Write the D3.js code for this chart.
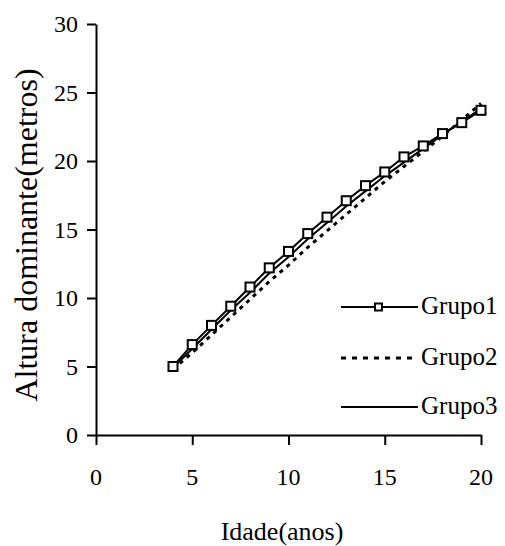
<!DOCTYPE html>
<html>
<head>
<meta charset="utf-8">
<script src="https://cdn.jsdelivr.net/npm/d3@7"></script>
<style>
html,body{margin:0;padding:0;background:#fff;}
svg{display:block;}
</style>
</head>
<body>
<svg id="chart" width="505" height="546"></svg>
<script>
const ages = [4,5,6,7,8,9,10,11,12,13,14,15,16,17,18,19,20];
const grupo1 = [5.0,6.6,8.0,9.4,10.8,12.2,13.4,14.7,15.9,17.1,18.2,19.2,20.3,21.1,22.0,22.8,23.7];
const grupo2 = [4.8,6.0,7.3,8.6,9.9,11.2,12.4,13.7,14.9,16.1,17.3,18.5,19.6,20.7,21.8,23.0,24.2];
const grupo3 = [4.9,6.3,7.7,9.1,10.4,11.8,13.0,14.3,15.5,16.7,17.8,18.9,19.9,20.9,21.9,22.9,23.8];
const seriesNames = ["Grupo1","Grupo2","Grupo3"];
const xTicks = [0,5,10,15,20];
const yTicks = [0,5,10,15,20,25,30];

const FONT = "'Liberation Serif'";
const svg = d3.select("#chart");
const x = d3.scaleLinear().domain([0,20]).range([96,481]);
const y = d3.scaleLinear().domain([0,30]).range([435,24]);

// axes (lines from d3 axes, labels drawn as text from tick arrays)
const yAxis = svg.append("g").attr("transform","translate(96,0)")
  .call(d3.axisLeft(y).tickValues(yTicks).tickSize(9).tickFormat("").tickSizeOuter(0));
const xAxis = svg.append("g").attr("transform","translate(0,435)")
  .call(d3.axisBottom(x).tickValues(xTicks).tickSize(10).tickFormat("").tickSizeOuter(0));
[xAxis,yAxis].forEach(a=>{
  a.select(".domain").attr("stroke","#000").attr("stroke-width",2);
  a.selectAll(".tick line").attr("stroke","#000").attr("stroke-width",2);
});
svg.selectAll("text.yt").data(yTicks).enter().append("text").attr("class","yt")
  .attr("x",78).attr("y",d=>y(d)).attr("dy","0.34em").attr("text-anchor","end")
  .attr("font-size",24).style("font-family",FONT).text(d=>d);
svg.selectAll("text.xt").data(xTicks).enter().append("text").attr("class","xt")
  .attr("x",d=>x(d)).attr("y",485).attr("text-anchor","middle")
  .attr("font-size",24).style("font-family",FONT).text(d=>d);

const line = d3.line().x((d,i)=>x(ages[i])).y(d=>y(d));

svg.append("path").datum(grupo3).attr("d",line)
  .attr("fill","none").attr("stroke","#000").attr("stroke-width",2);
svg.append("path").datum(grupo2).attr("d",line)
  .attr("fill","none").attr("stroke","#000").attr("stroke-width",3).attr("stroke-dasharray","4,5");
svg.append("path").datum(grupo1).attr("d",line)
  .attr("fill","none").attr("stroke","#000").attr("stroke-width",2);
svg.selectAll("rect.m").data(grupo1).enter().append("rect")
  .attr("class","m")
  .attr("x",(d,i)=>x(ages[i])-4.5).attr("y",d=>y(d)-4.5)
  .attr("width",9).attr("height",9)
  .attr("fill","#fff").attr("stroke","#000").attr("stroke-width",2);

// legend
const legY = [307,358,407];
const lg = svg.append("g");
seriesNames.forEach((name,i)=>{
  const l = lg.append("line").attr("x1",341).attr("x2",418).attr("y1",legY[i]).attr("y2",legY[i])
    .attr("stroke","#000").attr("stroke-width",i===1?3:2);
  if(i===1) l.attr("stroke-dasharray","5,6");
  if(i===0) lg.append("rect").attr("x",375).attr("y",legY[i]-3.5).attr("width",7).attr("height",7)
    .attr("fill","#fff").attr("stroke","#000").attr("stroke-width",2);
  lg.append("text").attr("x",421).attr("y",legY[i]+7).attr("font-size",25)
    .style("font-family",FONT).text(name);
});

// axis titles
svg.append("text").attr("x",282).attr("y",540).attr("text-anchor","middle")
  .attr("font-size",26).style("font-family",FONT).text("Idade(anos)");
svg.append("text").attr("transform","translate(37,235) rotate(-90)").attr("text-anchor","middle")
  .attr("font-size",32).style("font-family",FONT).text("Altura dominante(metros)");
</script>
</body>
</html>
